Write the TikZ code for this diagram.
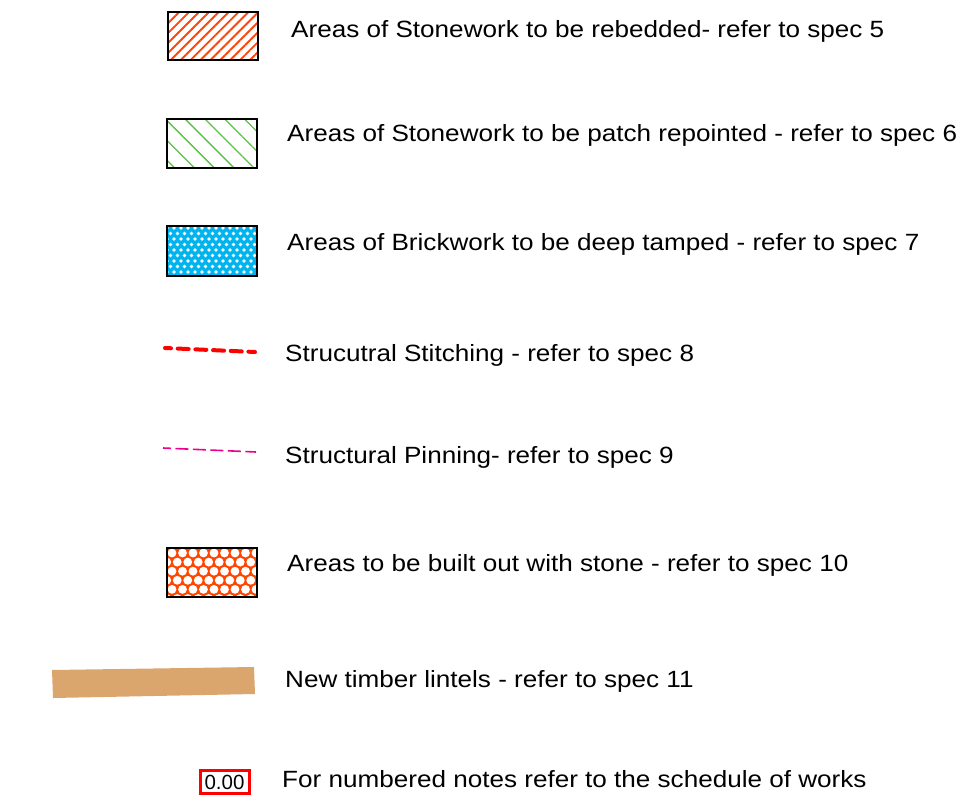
\documentclass[tikz,border=0pt]{standalone}
\usepackage{fontspec}
\setmainfont{Liberation Sans}
\usetikzlibrary{patterns.meta}

\definecolor{rebedred}{RGB}{255,70,10}
\definecolor{repointgreen}{RGB}{95,190,75}
\definecolor{tampblue}{RGB}{0,180,240}
\definecolor{buildorange}{RGB}{255,70,0}
\definecolor{timber}{RGB}{219,165,110}

\begin{document}
\begin{tikzpicture}[x=1pt,y=-1pt,
    legendtext/.style={anchor=base west, inner sep=0pt, xscale=1.11, font=\fontsize{23.5}{27}\selectfont}]
      \useasboundingbox (0,0) rectangle (974,805);
      % rebedded stonework
      \fill [pattern={Lines[angle=45,distance=7pt,line width=1.9pt]}, pattern color=rebedred] (168,12) rectangle (258,60);
      \draw [line width=2.3pt] (168,12) rectangle (258,60);
      \node [legendtext] (rebedtxt) at (291,38) {Areas of Stonework to be rebedded- refer to spec 5};
      % patch repointing
      \fill [pattern={Lines[angle=-45,distance=14pt,line width=1.3pt]}, pattern color=repointgreen] (167,119) rectangle (257,168);
      \draw [line width=2.3pt] (167,119) rectangle (257,168);
      \node [legendtext] (repointtxt) at (287,142) {Areas of Stonework to be patch repointed - refer to spec 6};
      % deep tamped brickwork
      \begin{scope}
        \clip (167,226) rectangle (257,276);
        \fill [tampblue] (167,226) rectangle (257,276);
        \foreach \i in {0,...,13}
          \foreach \j in {0,...,9}
            \fill [white] ({167+7*\i+3.5*mod(\j,2)},{228+5.5*\j}) circle [radius=1.9];
      \end{scope}
      \draw [line width=2.3pt] (167,226) rectangle (257,276);
      \node [legendtext] (tamptxt) at (287,250) {Areas of Brickwork to be deep tamped - refer to spec 7};
      % stitching
      \draw [red, line width=4pt, line cap=round, dash pattern=on 11pt off 6.7pt, dash phase=5pt] (165,348) -- (255,352);
      \node [legendtext] (stitchtxt) at (285,361) {Strucutral Stitching - refer to spec 8};
      % pinning
      \draw [magenta, line width=1.6pt, dash pattern=on 13pt off 4.5pt, dash phase=5pt] (163,448) -- (256,452);
      \node [legendtext] (pintxt) at (285,463) {Structural Pinning- refer to spec 9};
      % built out with stone
      \begin{scope}
        \clip (167,548) rectangle (257,597);
        \fill [buildorange] (167,548) rectangle (257,597);
        \foreach \i in {0,...,9}
          \foreach \j in {0,...,6}
            \fill [white] ({172+10.5*\i-5.25*mod(\j,2)},{553+9.1*\j}) circle [radius=4.4];
      \end{scope}
      \draw [line width=2.3pt] (167,548) rectangle (257,597);
      \node [legendtext] (buildtxt) at (287,571) {Areas to be built out with stone - refer to spec 10};
      % timber lintels
      \fill [timber] (52,670) -- (254,667) -- (255,694) -- (53,698) -- cycle;
      \node [legendtext] (lintxt) at (285,687) {New timber lintels - refer to spec 11};
      % note reference
      \draw [red, line width=3pt] (200,770) rectangle (249,793);
      \node [inner sep=0pt, font=\fontsize{20.5}{24}\selectfont] (notenum) at (224.5,782) {0.00};
      \node [legendtext] (notetxt) at (282,787) {For numbered notes refer to the schedule of works};
\end{tikzpicture}
\end{document}
